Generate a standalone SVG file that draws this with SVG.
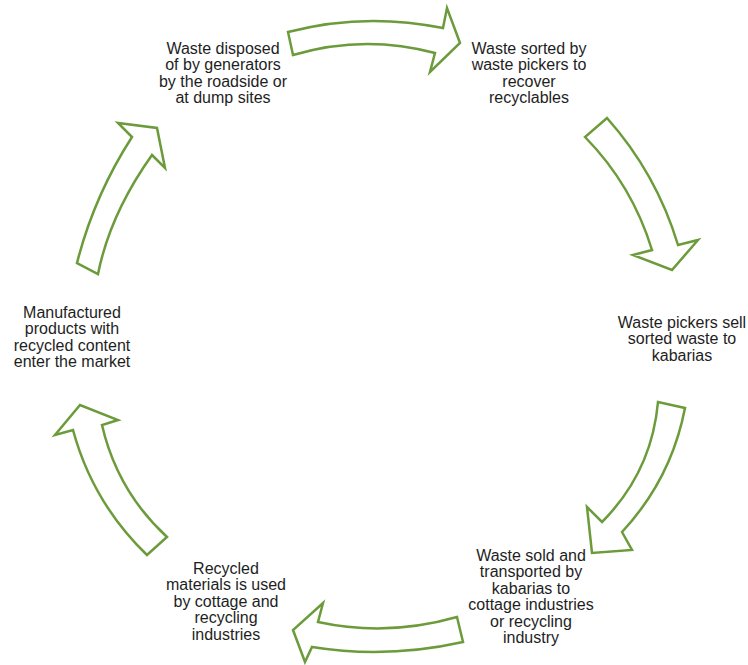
<svg xmlns="http://www.w3.org/2000/svg" width="748" height="665" viewBox="0 0 748 665">
<style>
.lbl{font-family:"Liberation Sans",Arial,sans-serif;font-size:16px;fill:#1e1e1e;text-anchor:middle}
.arr{fill:#fff;stroke:#6b9b3a;stroke-width:2.5;stroke-linejoin:miter}
</style>
<rect width="748" height="665" fill="#fff"/>
<g id="connectors">
<path id="a1" class="arr" d="M288,32 Q364,12 443,28 L447,8 L460,43 L430,72 L435,53 Q364,34 293,55 Z"/>
<path id="a2" class="arr" d="M607,118 Q656.5,173.7 678,245 L698,240 L672,270 L633,255 L652,250 Q632.3,185.3 585,137 Z"/>
<path id="a3" class="arr" d="M685,408 Q671.3,479 622,532 L632,550 L592,553 L587,507 L602,522 Q651.7,472 658,402 Z"/>
<path id="a4" class="arr" d="M457,617 Q387,637 318,622 L323,603 L293,630 L305,662 L312,647 Q387,659 463,642 Z"/>
<path id="a5" class="arr" d="M147,555 Q92.8,502.7 73,430 L55,435 L80,405 L118,420 L102,425 Q117.2,491 167,537 Z"/>
<path id="a6" class="arr" d="M77,263 Q94,196 132,137 L118,123 L157,128 L165,168 L152,155 Q110,214 98,274 Z"/>
</g>
<g id="n1"><text class="lbl" x="223" y="54">Waste disposed<tspan x="223" dy="16.4">of by generators</tspan><tspan x="223" dy="16.4">by the roadside or</tspan><tspan x="223" dy="16.4">at dump sites</tspan></text></g>
<g id="n2"><text class="lbl" x="529" y="54">Waste sorted by<tspan x="529" dy="16.4">waste pickers to</tspan><tspan x="529" dy="16.4">recover</tspan><tspan x="529" dy="16.4">recyclables</tspan></text></g>
<g id="n3"><text class="lbl" x="682" y="328">Waste pickers sell<tspan x="682" dy="16.4">sorted waste to</tspan><tspan x="682" dy="16.4">kabarias</tspan></text></g>
<g id="n4"><text class="lbl" x="531" y="561">Waste sold and<tspan x="531" dy="16.4">transported by</tspan><tspan x="531" dy="16.4">kabarias to</tspan><tspan x="531" dy="16.4">cottage industries</tspan><tspan x="531" dy="16.4">or recycling</tspan><tspan x="531" dy="16.4">industry</tspan></text></g>
<g id="n5"><text class="lbl" x="226" y="574">Recycled<tspan x="226" dy="16.4">materials is used</tspan><tspan x="226" dy="16.4">by cottage and</tspan><tspan x="226" dy="16.4">recycling</tspan><tspan x="226" dy="16.4">industries</tspan></text></g>
<g id="n6"><text class="lbl" x="72" y="318">Manufactured<tspan x="72" dy="16.4">products with</tspan><tspan x="72" dy="16.4">recycled content</tspan><tspan x="72" dy="16.4">enter the market</tspan></text></g>
</svg>
